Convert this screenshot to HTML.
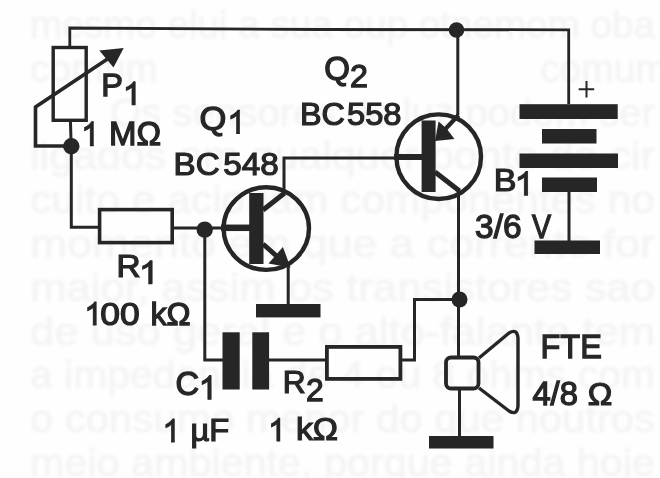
<!DOCTYPE html>
<html><head><meta charset="utf-8">
<style>
html,body{margin:0;padding:0;background:#fefefe;}
body{width:660px;height:478px;overflow:hidden;position:relative;font-family:"Liberation Sans",sans-serif;}
svg{position:absolute;left:0;top:0;}
text{font-family:"Liberation Sans",sans-serif;fill:#262626;stroke:#262626;stroke-width:1.3;}
</style></head><body>
<svg width="660" height="478" viewBox="0 0 660 478">
<defs>
<filter id="gb" x="-5%" y="-20%" width="110%" height="140%"><feGaussianBlur stdDeviation="1.5"/></filter>
<filter id="soft" x="-2%" y="-2%" width="104%" height="104%"><feGaussianBlur stdDeviation="0.45"/></filter>
</defs>
<rect width="660" height="478" fill="#fefefe"/>
<g id="ghost" font-size="39" fill="#f4f4f4" filter="url(#gb)" style="stroke:#f4f4f4;stroke-width:0.8;fill:#f4f4f4">
<text x="30" y="38.0" textLength="625" lengthAdjust="spacingAndGlyphs" style="stroke:#f4f4f4;stroke-width:0.8;fill:#f4f4f4">mesmo elui a sua oup otnemom oba</text>
<text x="30" y="81.8" style="stroke:#f4f4f4;stroke-width:0.8;fill:#f4f4f4">comum</text>
<text x="540" y="81.8" style="stroke:#f4f4f4;stroke-width:0.8;fill:#f4f4f4">comum</text>
<text x="110" y="125.6" textLength="545" lengthAdjust="spacingAndGlyphs" style="stroke:#f4f4f4;stroke-width:0.8;fill:#f4f4f4">Os sensores de luz podem ser</text>
<text x="30" y="169.4" textLength="625" lengthAdjust="spacingAndGlyphs" style="stroke:#f4f4f4;stroke-width:0.8;fill:#f4f4f4">ligados em qualquer ponto do cir</text>
<text x="30" y="213.2" textLength="625" lengthAdjust="spacingAndGlyphs" style="stroke:#f4f4f4;stroke-width:0.8;fill:#f4f4f4">cuito e acionam componentes no</text>
<text x="30" y="257.0" textLength="625" lengthAdjust="spacingAndGlyphs" style="stroke:#f4f4f4;stroke-width:0.8;fill:#f4f4f4">momento em que a corrente for</text>
<text x="30" y="300.8" textLength="625" lengthAdjust="spacingAndGlyphs" style="stroke:#f4f4f4;stroke-width:0.8;fill:#f4f4f4">maior, assim os transistores sao</text>
<text x="30" y="344.6" textLength="625" lengthAdjust="spacingAndGlyphs" style="stroke:#f4f4f4;stroke-width:0.8;fill:#f4f4f4">de uso geral e o alto-falante tem</text>
<text x="30" y="388.4" textLength="625" lengthAdjust="spacingAndGlyphs" style="stroke:#f4f4f4;stroke-width:0.8;fill:#f4f4f4">a impedancia de 4 ou 8 ohms com</text>
<text x="30" y="432.2" textLength="625" lengthAdjust="spacingAndGlyphs" style="stroke:#f4f4f4;stroke-width:0.8;fill:#f4f4f4">o consumo menor do que noutros</text>
<text x="30" y="476.0" textLength="625" lengthAdjust="spacingAndGlyphs" style="stroke:#f4f4f4;stroke-width:0.8;fill:#f4f4f4">meio ambiente, porque ainda hoje</text>
</g>
<g id="main" filter="url(#soft)">
<g id="wires" fill="none" stroke="#262626" stroke-width="3" stroke-linejoin="miter" stroke-linecap="butt">
<!-- top wire -->
<path d="M69.800,47 V28 L320,29.500 L568.700,29.800 V104" stroke-width="2.800"/>
<!-- pot -->
<rect x="53.200" y="47.500" width="33" height="72.800" stroke-width="3.4"/>
<path d="M70.400,120 L71.300,150 V227.300 H100"/>
<path d="M112,56 L35.500,107 V146 H71" stroke-width="3.6"/>
<!-- R1 -->
<rect x="99.600" y="209.600" width="72.600" height="33" stroke-width="3.600"/>
<path d="M173,228 H224" stroke-width="2.800"/>
<!-- Q1 -->
<ellipse cx="266.300" cy="228.600" rx="42.700" ry="41.300" stroke-width="4.4"/>
<path d="M221,227.800 H250" stroke-width="6.5"/>
<path d="M263,210 L284,193.500" stroke-width="5"/>
<path d="M284,196 V158 H396" stroke-width="3"/>
<path d="M263,244 L280,259" stroke-width="5"/>
<path d="M288.200,262 V304"/>
<!-- cap wires -->
<path d="M204.800,229 V360 H223"/>
<path d="M269,360 H327"/>
<!-- R2 -->
<rect x="326.900" y="346.900" width="73.500" height="32" stroke-width="3.800"/>
<path d="M401,360 H414.500 V299.500 H459"/>
<!-- Q2 -->
<circle cx="438.700" cy="156.700" r="42.300" stroke-width="4.4"/>
<path d="M394,157 H423" stroke-width="6"/>
<path d="M457.800,30 V115" stroke-width="3"/><path d="M458.500,115 L445,129.500" stroke-width="4.200"/>
<path d="M435,172 L459.500,191" stroke-width="5"/>
<path d="M458.500,190 V356" stroke-width="3"/>
<path d="M459.500,390 V437"/>
<!-- battery wire -->
<path d="M569,192 V241"/>
<!-- speaker -->
<rect x="446" y="357.500" width="32.500" height="31" rx="5" ry="5" stroke-width="3.800"/>
<path d="M479,358 L509,333 Q517,328 518,338 V406 Q517,416 509,411 L479,388" stroke-width="3.4" stroke-linejoin="round"/>
</g>
<g id="fills" fill="#262626" stroke="none">
<!-- pot arrow -->
<polygon points="99.300,50.400 123.700,48 113.500,67.500"/>
<circle cx="71.300" cy="146.300" r="8.200"/>
<circle cx="204.700" cy="229.600" r="8.200"/>
<circle cx="456.500" cy="30" r="7.800"/>
<circle cx="459.500" cy="299.500" r="8"/>
<!-- Q1 -->
<rect x="249.200" y="193" width="14.300" height="71"/>
<polygon points="282.900,247 268.500,263.500 290.500,267.500"/>
<rect x="256" y="304" width="64.500" height="13.400"/>
<!-- cap -->
<rect x="222.500" y="332.300" width="17.200" height="57.200"/>
<rect x="252.300" y="332.300" width="16.800" height="57.200"/>
<!-- Q2 -->
<rect x="421.600" y="120.500" width="14" height="71.500"/>
<polygon points="435,141 438.600,121.500 446.500,128.500 454.500,139"/>
<!-- battery -->
<rect x="519.500" y="104.200" width="98.200" height="14.800"/>
<rect x="542" y="129" width="54.500" height="14.500"/>
<rect x="519.500" y="153.500" width="98.500" height="14.500"/>
<rect x="542" y="177.500" width="55" height="14.500"/>
<rect x="534.500" y="240.500" width="65.500" height="13.500"/>
<!-- spk gnd -->
<rect x="429" y="436" width="64.500" height="12.500"/>
</g>
<g id="labels" font-size="33">
<text transform="translate(101.18,96.45) scale(0.985,0.969)">P</text>
<text transform="translate(109.05,145.05) scale(0.999,0.981)">MΩ</text>
<text transform="translate(199.43,129.65) scale(1.047,0.985)">Q</text>
<text transform="translate(173.53,174.65) scale(1.005,0.925)">BC</text>
<text transform="translate(223.32,174.65) scale(1.008,0.925)">548</text>
<text transform="translate(324.19,79.65) scale(1.003,1.012)">Q</text>
<text transform="translate(349.94,86.95) scale(0.977,0.964)">2</text>
<text transform="translate(300.00,125.45) scale(0.979,0.959)">BC</text>
<text transform="translate(347.04,125.45) scale(0.990,0.959)">558</text>
<text transform="translate(116.41,276.95) scale(1.012,0.938)">R</text>
<text transform="translate(100.27,324.65) scale(1.076,0.951)">00</text>
<text transform="translate(150.39,324.65) scale(0.977,0.970)">kΩ</text>
<text transform="translate(175.38,395.05) scale(0.991,1.033)">C</text>
<text transform="translate(190.43,441.45) scale(0.989,0.938)">µF</text>
<text transform="translate(282.85,392.65) scale(0.961,0.929)">R</text>
<text transform="translate(306.06,401.35) scale(0.964,0.964)">2</text>
<text transform="translate(295.99,440.35) scale(1.023,0.945)">kΩ</text>
<text transform="translate(493.66,190.65) scale(1.031,0.960)">B</text>
<text transform="translate(475.08,237.75) scale(1.015,0.986)">3/6</text>
<text transform="translate(532.11,237.75) scale(0.867,0.995)">V</text>
<text transform="translate(540.49,357.55) scale(0.984,0.995)">FTE</text>
<text transform="translate(532.40,405.05) scale(0.991,0.982)">4/8</text>
<text transform="translate(587.77,405.45) scale(0.996,0.959)">Ω</text>
</g>
<g id="ones" fill="#262626" stroke="#262626" stroke-width="0.05" stroke-linejoin="round">
<path d="M1,1 H0.63 V0.225 Q0.53,0.27 0.35,0.31 T0,0.375 V0.25 Q0.28,0.202 0.489,0.133 T0.785,0 H1 Z" transform="translate(126.10,81.90) scale(9.20,22.70)"/>
<path d="M1,1 H0.63 V0.225 Q0.53,0.27 0.35,0.31 T0,0.375 V0.25 Q0.28,0.202 0.489,0.133 T0.785,0 H1 Z" transform="translate(84.30,121.80) scale(9.20,23.90)"/>
<path d="M1,1 H0.63 V0.225 Q0.53,0.27 0.35,0.31 T0,0.375 V0.25 Q0.28,0.202 0.489,0.133 T0.785,0 H1 Z" transform="translate(230.60,110.30) scale(9.10,23.00)"/>
<path d="M1,1 H0.63 V0.225 Q0.53,0.27 0.35,0.31 T0,0.375 V0.25 Q0.28,0.202 0.489,0.133 T0.785,0 H1 Z" transform="translate(142.40,260.70) scale(9.80,22.90)"/>
<path d="M1,1 H0.63 V0.225 Q0.53,0.27 0.35,0.31 T0,0.375 V0.25 Q0.28,0.202 0.489,0.133 T0.785,0 H1 Z" transform="translate(87.50,302.10) scale(8.80,22.90)"/>
<path d="M1,1 H0.63 V0.225 Q0.53,0.27 0.35,0.31 T0,0.375 V0.25 Q0.28,0.202 0.489,0.133 T0.785,0 H1 Z" transform="translate(202.00,375.70) scale(9.20,23.50)"/>
<path d="M1,1 H0.63 V0.225 Q0.53,0.27 0.35,0.31 T0,0.375 V0.25 Q0.28,0.202 0.489,0.133 T0.785,0 H1 Z" transform="translate(165.70,419.00) scale(8.80,22.90)"/>
<path d="M1,1 H0.63 V0.225 Q0.53,0.27 0.35,0.31 T0,0.375 V0.25 Q0.28,0.202 0.489,0.133 T0.785,0 H1 Z" transform="translate(271.20,418.40) scale(8.80,22.60)"/>
<path d="M1,1 H0.63 V0.225 Q0.53,0.27 0.35,0.31 T0,0.375 V0.25 Q0.28,0.202 0.489,0.133 T0.785,0 H1 Z" transform="translate(518.00,171.60) scale(9.80,23.50)"/>
</g>
</g>
<g stroke="#262626" stroke-width="2" fill="none" filter="url(#soft)"><path d="M578.700,89.300 H594.200 M586.500,81 V97.500"/></g>
</svg>
</body></html>
